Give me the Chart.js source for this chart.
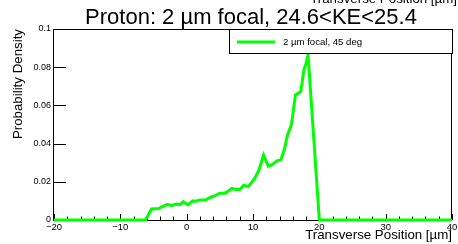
<!DOCTYPE html>
<html>
<head>
<meta charset="utf-8">
<script src="https://cdn.jsdelivr.net/npm/chart.js@4.4.0/dist/chart.umd.min.js"></script>
<style>
  html, body { margin: 0; padding: 0; background: #fff; }
  #wrap { width: 458px; height: 244px; }
</style>
</head>
<body>
<div id="wrap"><canvas id="pdChart" width="458" height="244"></canvas></div>
<script>
/* ===== Proton transverse profile ===== */

const positions = [-20, -6.2, -5.3, -4.2, -3.6, -2.9, -2.3, -1.6, -1.0, -0.5, 0.2, 0.9, 1.4, 2.0, 2.9, 3.5,
  4.1, 5.0, 5.8, 6.8, 7.4, 8.0, 8.6, 9.3, 10.3, 10.9, 11.6, 12.3, 12.9, 13.6, 14.2, 14.7, 15.2, 15.8,
  16.4, 17.2, 17.7, 18.0, 18.3, 20.0, 40];
const density = [0, 0, 0.0058, 0.0060, 0.0072, 0.0082, 0.0075, 0.0083, 0.0080, 0.0096, 0.0079, 0.0100,
  0.0098, 0.0105, 0.0106, 0.0118, 0.0124, 0.0140, 0.0140, 0.0165, 0.0160, 0.0160, 0.0182, 0.0175,
  0.0220, 0.0262, 0.0340, 0.0282, 0.0290, 0.0310, 0.0315, 0.0365, 0.0445, 0.0500, 0.0655, 0.0672,
  0.0790, 0.0820, 0.0865, 0, 0];

const xTicks = [-20, -10, 0, 10, 20, 30, 40];
const xTickLabels = ['\u221220', '\u221210', '0', '10', '20', '30', '40'];
const xMinorTicks = [-18, -16, -14, -12, -8, -6, -4, -2, 2, 4, 6, 8, 12, 14, 16, 18,
  22, 24, 26, 28, 32, 34, 36, 38];
const yTicks = [0, 0.02, 0.04, 0.06, 0.08, 0.1];
const yTickLabels = ['0', '0.02', '0.04', '0.06', '0.08', '0.1'];

const seriesLabel = '2 \u00b5m focal, 45 deg';
const titleText = 'Proton: 2 \u00b5m focal, 24.6<KE<25.4';
const xTitle = 'Transverse Position [\u00b5m]';
const yTitle = 'Probability Density';

const FONT = '"Liberation Sans", Arial, sans-serif';

const rootStyle = {
  id: 'rootStyle',
  beforeDatasetsDraw(chart) {
    const { ctx, chartArea: a, scales: { x, y } } = chart;
    ctx.save();
    ctx.strokeStyle = '#000';
    ctx.lineWidth = 1;
    ctx.strokeRect(a.left - 0.5, a.top + 0.5, a.right - a.left, a.bottom - a.top);

    ctx.beginPath();
    xTicks.forEach(v => {
      const px = Math.round(x.getPixelForValue(v)) + 0.5;
      ctx.moveTo(px, a.bottom); ctx.lineTo(px, a.bottom - 6);
    });
    xMinorTicks.forEach(v => {
      const px = Math.round(x.getPixelForValue(v)) + 0.5;
      ctx.moveTo(px, a.bottom); ctx.lineTo(px, a.bottom - 3.5);
    });
    yTicks.forEach(v => {
      const py = Math.round(y.getPixelForValue(v)) + 0.5;
      ctx.moveTo(a.left, py); ctx.lineTo(a.left + 12, py);
    });
    ctx.stroke();
    ctx.restore();
  },
  afterDatasetsDraw(chart) {
    const { ctx, chartArea: a, scales: { x, y } } = chart;
    ctx.save();
    ctx.fillStyle = '#000';

    // tick labels
    ctx.font = '9.5px ' + FONT;
    ctx.textAlign = 'center';
    ctx.textBaseline = 'top';
    xTicks.forEach((v, i) => ctx.fillText(xTickLabels[i], x.getPixelForValue(v), a.bottom + 2.5));
    ctx.font = '9px ' + FONT;
    ctx.textAlign = 'right';
    ctx.textBaseline = 'middle';
    yTicks.forEach((v, i) => ctx.fillText(yTickLabels[i], a.left - 3, y.getPixelForValue(v)));

    // axis titles
    ctx.font = '13.3px ' + FONT;
    ctx.textAlign = 'right';
    ctx.textBaseline = 'alphabetic';
    ctx.fillText(xTitle, a.right, 239);
    ctx.fillText(xTitle, 457, 3);
    ctx.save();
    ctx.translate(22, a.top);
    ctx.rotate(-Math.PI / 2);
    ctx.fillText(yTitle, 0, 0);
    ctx.restore();

    // title
    ctx.font = '22px ' + FONT;
    ctx.textAlign = 'center';
    ctx.fillText(titleText, 251, 24);

    // legend box
    const lx = 229, ly = 29, lw = 223, lh = 24;
    ctx.fillStyle = '#fff';
    ctx.fillRect(lx, ly, lw, lh);
    ctx.strokeStyle = '#000';
    ctx.lineWidth = 1;
    ctx.strokeRect(lx + 0.5, ly + 0.5, lw, lh);
    ctx.strokeStyle = '#00ff00';
    ctx.lineWidth = 3;
    ctx.beginPath();
    ctx.moveTo(237, 42); ctx.lineTo(275, 42);
    ctx.stroke();
    ctx.fillStyle = '#000';
    ctx.font = '9.6px ' + FONT;
    ctx.textAlign = 'left';
    ctx.textBaseline = 'middle';
    ctx.fillText(seriesLabel, 283, 42);
    ctx.restore();
  }
};

document.addEventListener('DOMContentLoaded', () => {
  const ctx = document.getElementById('pdChart').getContext('2d');
  new Chart(ctx, {
    type: 'line',
    data: {
      datasets: [{
        label: seriesLabel,
        data: positions.map((p, i) => ({ x: p, y: density[i] })),
        borderColor: '#00ff00',
        borderWidth: 3,
        pointRadius: 0,
        tension: 0,
        fill: false,
        clip: 4
      }]
    },
    options: {
      responsive: false,
      animation: false,
      devicePixelRatio: 1,
      layout: { padding: { left: 54, top: 29, right: 6, bottom: 24 } },
      scales: {
        x: { type: 'linear', min: -20, max: 40, display: false },
        y: { type: 'linear', min: 0, max: 0.1, display: false }
      },
      plugins: { legend: { display: false }, tooltip: { enabled: false }, title: { display: false } }
    },
    plugins: [rootStyle]
  });
});
</script>
</body>
</html>
